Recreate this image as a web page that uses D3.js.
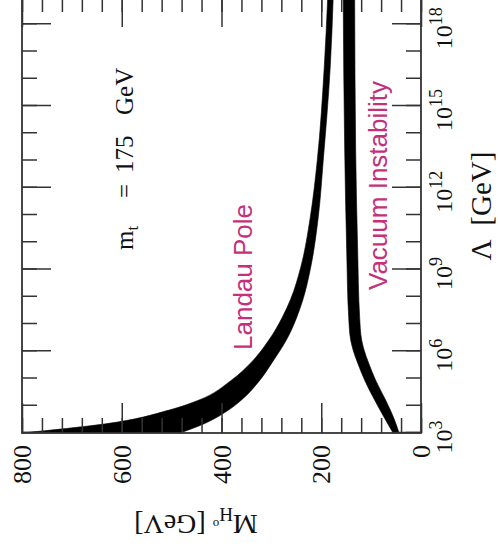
<!DOCTYPE html>
<meta charset="utf-8">
<style>
    body { margin: 0; background: #fff; }
    .tick line { stroke: #333; stroke-width: 1.5px; }
    .tick text { display: none; }
    .frame { fill: none; stroke: #333; stroke-width: 1.8px; }
    .band { fill: #000; stroke: #000; stroke-width: 0.6px; }
    .serif { font-family: "Liberation Serif", "Times New Roman", serif; fill: #111; }
    .region { font-family: "Liberation Sans", Arial, sans-serif; fill: #c4307c; font-size: 26px; }
</style>
<body>
<script src="https://cdnjs.cloudflare.com/ajax/libs/d3/7.8.5/d3.min.js"></script>
<script>

    // log10 of the cutoff scale Lambda [GeV]
    var landauExp   = [3.0, 3.33, 3.84, 4.21, 4.94, 5.6, 6.41, 7.25, 7.88, 9.09, 10.92, 13.0, 16.42, 19];
    var landauUpper = [800, 635, 505, 445, 380, 340, 305, 278, 262, 241, 222, 208, 194, 187];
    var landauLower = [483, 436, 386, 360, 323, 298, 270, 249, 237, 221, 206, 196, 182, 176];

    var vacuumExp   = [3.0, 3.48, 4.21, 4.94, 5.57, 6.04, 6.41, 7.25, 9.71, 13.38, 19];
    var vacuumUpper = [56, 71, 93, 113, 127, 136, 141, 145, 149, 153, 156];
    var vacuumLower = [44, 53, 71, 91, 105, 114, 119, 123, 127, 131, 133];

    var lambdaMajor = [3, 6, 9, 12, 15, 18];
    var lambdaMinor = d3.range(3, 20);
    var massMajor = [0, 200, 400, 600, 800];
    var massMinor = d3.range(0, 801, 40);

    // the whole figure is drawn as usual and then turned a quarter turn to the left
    var width = 436, height = 399;

    var svg = d3.select("body").append("svg").attr("width", 498).attr("height", 553);
    var g = svg.append("g").attr("transform", "translate(22,433) rotate(-90)");

    var x = d3.scaleLinear().domain([3, 19]).range([0, width]);
    var y = d3.scaleLinear().domain([0, 800]).range([height, 0]);

    g.append("clipPath").attr("id", "plotClip")
        .append("rect").attr("width", width).attr("height", height);

    var area = d3.area()
        .x(function(d) { return x(d[0]); })
        .y0(function(d) { return y(d[1]); })
        .y1(function(d) { return y(d[2]); })
        .curve(d3.curveMonotoneX);

    var landau = landauExp.map(function(e, i) { return [e, landauLower[i], landauUpper[i]]; });
    var vacuum = vacuumExp.map(function(e, i) { return [e, vacuumLower[i], vacuumUpper[i]]; });

    var plot = g.append("g").attr("clip-path", "url(#plotClip)");
    plot.append("path").datum(landau).attr("class", "band").attr("d", area);
    plot.append("path").datum(vacuum).attr("class", "band").attr("d", area);

    // inward ticks on all four sides
    function ticks(axis, values, size, tr) {
        var a = g.append("g").attr("transform", tr).call(axis.tickValues(values).tickSize(-size));
        a.select(".domain").remove();
    }
    ticks(d3.axisBottom(x), lambdaMinor, 15, "translate(0," + height + ")");
    ticks(d3.axisBottom(x), lambdaMajor, 29, "translate(0," + height + ")");
    ticks(d3.axisTop(x), lambdaMinor, 15, "translate(0,0)");
    ticks(d3.axisTop(x), lambdaMajor, 29, "translate(0,0)");
    ticks(d3.axisLeft(y), massMinor, 15, "translate(0,0)");
    ticks(d3.axisLeft(y), massMajor, 30, "translate(0,0)");
    ticks(d3.axisRight(y), massMinor, 15, "translate(" + width + ",0)");
    ticks(d3.axisRight(y), massMajor, 30, "translate(" + width + ",0)");

    g.append("rect").attr("class", "frame").attr("width", width).attr("height", height);

    // Lambda tick labels 10^n
    lambdaMajor.forEach(function(e) {
        var t = g.append("text").attr("class", "serif")
            .attr("x", x(e) - 4).attr("y", height + 31)
            .attr("text-anchor", "middle").style("font-size", "24px");
        t.append("tspan").text("10");
        t.append("tspan").attr("dy", -10).style("font-size", "18px").text(e);
    });

    // mass tick labels
    massMajor.forEach(function(m) {
        g.append("text").attr("class", "serif")
            .attr("x", -12).attr("y", y(m)).attr("dy", "0.35em")
            .attr("text-anchor", "end").style("font-size", "26px")
            .text(m);
    });

    // axis titles
    g.append("text").attr("class", "serif")
        .attr("x", 227).attr("y", height + 70)
        .attr("text-anchor", "middle").style("font-size", "29px").style("white-space", "pre")
        .text("\u039B  [GeV]");

    var yt = g.append("text").attr("class", "serif")
        .attr("transform", "translate(-82,174) rotate(-90)")
        .attr("text-anchor", "middle").style("font-size", "28px");
    yt.append("tspan").text("M");
    yt.append("tspan").attr("dy", 7).style("font-size", "19px").text("H");
    yt.append("tspan").attr("dy", -12).style("font-size", "13px").text("o");
    yt.append("tspan").attr("dy", 5).style("white-space", "pre").text(" [GeV]");

    // annotations
    var mt = g.append("text").attr("class", "serif")
        .attr("x", 183).attr("y", 111).style("font-size", "25px");
    mt.append("tspan").text("m");
    mt.append("tspan").attr("dy", 5).style("font-size", "17px").text("t");
    mt.append("tspan").attr("x", 235).attr("dy", -5).text("=");
    mt.append("tspan").attr("x", 260).text("175");
    mt.append("tspan").attr("x", 318).text("GeV");

    g.append("text").attr("class", "region").attr("x", 83).attr("y", 230).text("Landau Pole");
    g.append("text").attr("class", "region").attr("x", 143).attr("y", 365).text("Vacuum Instability");

</script>
</body>
